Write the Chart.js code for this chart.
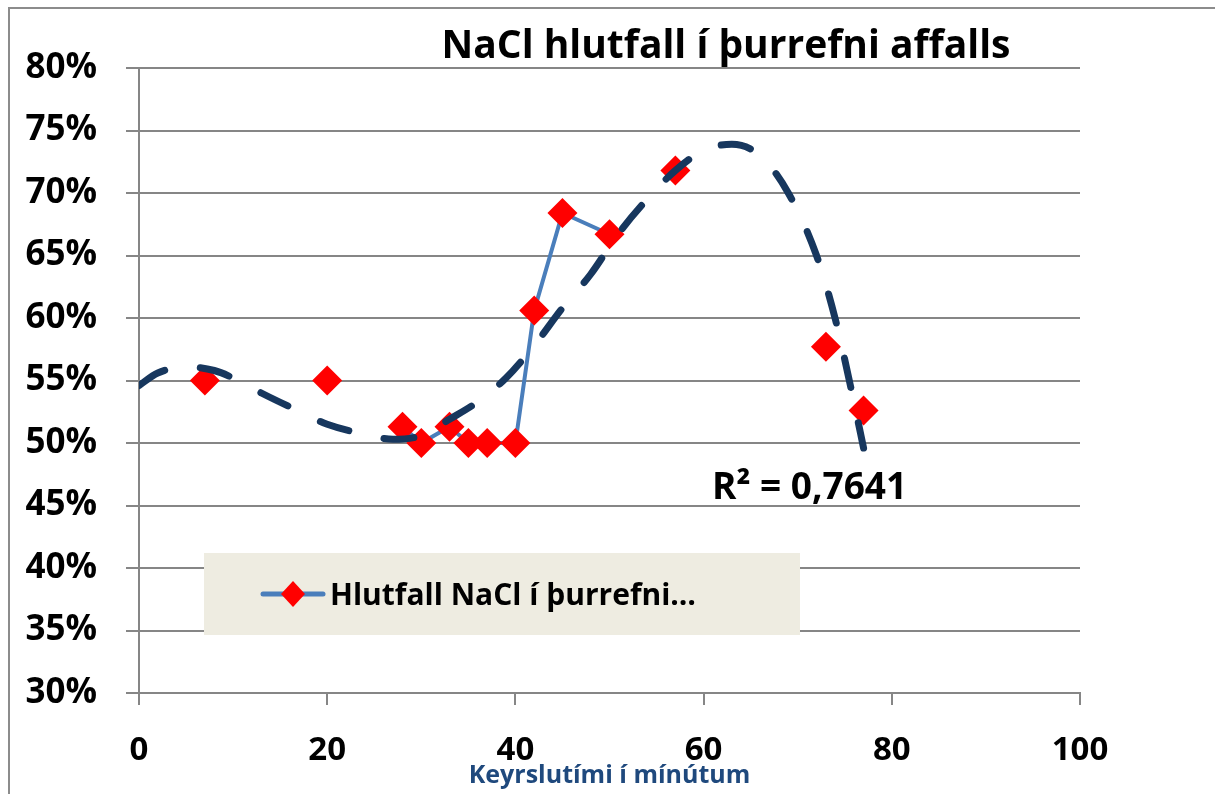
<!DOCTYPE html>
<html>
<head>
<meta charset="utf-8">
<script src="https://cdn.jsdelivr.net/npm/chart.js@4.4.1/dist/chart.umd.min.js"></script>
<style>
    html, body { margin: 0; padding: 0; background: #fff; }
    #wrap { position: relative; width: 1215px; height: 794px; }
</style>
</head>
<body>
<div id="wrap"><canvas id="grafico" width="1215" height="794"></canvas></div>
<script>
// mælingar
const minutur = [7, 20, 28, 30, 33, 35, 37, 40, 42, 45, 50, 57, 73, 77];
const hlutfallNaCl = [55.0, 55.0, 51.3, 50.0, 51.3, 50.0, 50.0, 50.0, 60.6, 68.4, 66.7, 71.8, 57.7, 52.6];
// 1 = lína dregin að næsta punkti
const tengt = [0, 0, 1, 1, 1, 1, 1, 1, 1, 1, 0, 0, 0, 0];

// leitnilína (lesin af myndinni)
const leitniX = [0, 2, 5, 8, 10, 13, 16, 20, 24, 27, 30, 33, 36, 39, 42, 45, 48, 51, 54, 57, 60, 63, 66, 69, 72, 74, 76, 77];
const leitniY = [54.6, 55.6, 56.1, 55.8, 55.2, 54.0, 52.9, 51.5, 50.7, 50.3, 50.6, 51.9, 53.3, 55.2, 57.8, 60.8, 63.5, 66.8, 69.5, 71.8, 73.4, 73.9, 73.0, 70.0, 65.0, 59.9, 53.2, 49.6];

const xTicks = [0, 20, 40, 60, 80, 100];
const yTicks = [30, 35, 40, 45, 50, 55, 60, 65, 70, 75, 80];

const titill = "NaCl hlutfall í þurrefni affalls";
const xTitill = "Keyrslutími í mínútum";
const skyring = "Hlutfall NaCl í þurrefni…";
const rTexti = "R² = 0,7641";

const GRID = "#868686";
const LETUR = "'Open Sans', 'Noto Sans', sans-serif";

const teikning = {
    id: "teikning",
    beforeDraw(chart) {
        const ctx = chart.ctx;
        ctx.save();
        ctx.fillStyle = "#fff";
        ctx.fillRect(0, 0, chart.width, chart.height);
        ctx.strokeStyle = "#8c8c8c";
        ctx.lineWidth = 2;
        ctx.beginPath();
        ctx.moveTo(9, chart.height + 5);
        ctx.lineTo(9, 8);
        ctx.lineTo(chart.width + 5, 8);
        ctx.stroke();
        ctx.restore();
    },
    afterDraw(chart) {
        const ctx = chart.ctx;
        const a = chart.chartArea;
        ctx.save();

        // titill
        ctx.fillStyle = "#000";
        ctx.font = "bold 39px " + LETUR;
        ctx.textAlign = "center";
        ctx.textBaseline = "alphabetic";
        ctx.fillText(titill, 726, 58);

        // R²
        ctx.font = "bold 37px " + LETUR;
        ctx.textAlign = "left";
        ctx.fillText(rTexti, a.left + 573, 499);

        // skýring
        const bx = a.left + 65, by = 553;
        ctx.fillStyle = "#EEECE1";
        ctx.fillRect(bx, by, 596, 82);
        ctx.strokeStyle = "#4A7EBB";
        ctx.lineWidth = 5;
        ctx.lineCap = "round";
        ctx.beginPath();
        ctx.moveTo(bx + 59, by + 41);
        ctx.lineTo(bx + 119, by + 41);
        ctx.stroke();
        ctx.fillStyle = "#FF0000";
        ctx.beginPath();
        ctx.moveTo(bx + 89, by + 41 - 13);
        ctx.lineTo(bx + 89 + 12, by + 41);
        ctx.lineTo(bx + 89, by + 41 + 13);
        ctx.lineTo(bx + 89 - 12, by + 41);
        ctx.closePath();
        ctx.fill();
        ctx.fillStyle = "#000";
        ctx.font = "bold 30px " + LETUR;
        ctx.textAlign = "left";
        ctx.fillText(skyring, bx + 126, by + 52);

        ctx.restore();
    }
};

new Chart(document.getElementById("grafico").getContext("2d"), {
    type: "scatter",
    data: {
        datasets: [
            {
                label: "Leitnilína",
                data: leitniX.map((x, i) => ({ x: x, y: leitniY[i] })),
                showLine: true,
                borderColor: "#17375E",
                borderWidth: 7,
                borderDash: [30, 36],
                borderCapStyle: "round",
                cubicInterpolationMode: "monotone",
                pointRadius: 0,
                order: 0,
            },
            {
                label: skyring,
                data: minutur.map((x, i) => ({ x: x, y: hlutfallNaCl[i] })),
                showLine: true,
                borderColor: "#4A7EBB",
                borderWidth: 4,
                segment: {
                    borderColor: c => tengt[c.p0DataIndex] ? "#4A7EBB" : "rgba(0,0,0,0)",
                },
                pointStyle: "rectRot",
                pointRadius: 15,
                pointHoverRadius: 15,
                pointBackgroundColor: "#FF0000",
                pointBorderWidth: 0,
                order: 1,
            },
        ],
    },
    options: {
        responsive: false,
        animation: false,
        events: [],
        layout: { padding: { top: 68, right: 135, left: 0, bottom: 0 } },
        plugins: {
            legend: { display: false },
            title: { display: false },
            tooltip: { enabled: false },
        },
        scales: {
            x: {
                type: "linear",
                min: 0,
                max: 100,
                afterFit: s => { s.height = 101; },
                afterBuildTicks: s => { s.ticks = xTicks.map(v => ({ value: v })); },
                grid: { drawOnChartArea: false, color: GRID, lineWidth: 2, tickLength: 12 },
                border: { color: GRID, width: 2 },
                ticks: {
                    color: "#000",
                    padding: 26,
                    font: { family: LETUR, size: 33, weight: "bold" },
                },
                title: {
                    display: true,
                    text: xTitill,
                    color: "#1F497D",
                    padding: { top: 0, bottom: 3 },
                    font: { family: LETUR, size: 25, weight: "bold" },
                },
            },
            y: {
                min: 30,
                max: 80,
                afterFit: s => { s.width = 139; },
                afterBuildTicks: s => { s.ticks = yTicks.map(v => ({ value: v })); },
                grid: { color: GRID, lineWidth: 2, tickLength: 13 },
                border: { color: GRID, width: 2 },
                ticks: {
                    color: "#000",
                    padding: 29,
                    callback: v => v + "%",
                    font: { family: LETUR, size: 35, weight: "bold" },
                },
            },
        },
    },
    plugins: [teikning],
});
</script>
</body>
</html>
